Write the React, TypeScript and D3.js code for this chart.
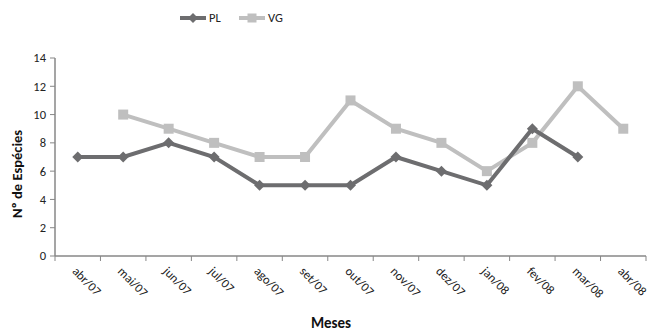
import React from "react";
import * as d3 from "d3";

const months = ["abr/07", "mai/07", "jun/07", "jul/07", "ago/07", "set/07", "out/07", "nov/07", "dez/07", "jan/08", "fev/08", "mar/08", "abr/08"];
const plValues: (number | null)[] = [7, 7, 8, 7, 5, 5, 5, 7, 6, 5, 9, 7, null];
const vgValues: (number | null)[] = [null, 10, 9, 8, 7, 7, 11, 9, 8, 6, 8, 12, 9];
const yTicks = [0, 2, 4, 6, 8, 10, 12, 14];

const W = 654;
const H = 331;
const left = 55;
const right = 646;
const top = 58;
const bottom = 256;
const font = "Carlito, Calibri, 'Liberation Sans', Arial, sans-serif";
const axisColor = "#878787";
const plColor = "#6d6d6f";
const vgColor = "#bfbfbf";

export default function App() {
  const x = d3.scaleBand<string>().domain(months).range([left, right]);
  const y = d3.scaleLinear().domain([0, 14]).range([bottom, top]);
  const cx = (m: string) => (x(m) ?? 0) + x.bandwidth() / 2;

  const line = d3
    .line<[string, number | null]>()
    .defined((d) => d[1] != null)
    .x((d) => cx(d[0]))
    .y((d) => y(d[1] as number));

  const plData = months.map((m, i) => [m, plValues[i]] as [string, number | null]);
  const vgData = months.map((m, i) => [m, vgValues[i]] as [string, number | null]);

  const diamond = (px: number, py: number, r: number) =>
    `M${px},${py - r}L${px + r},${py}L${px},${py + r}L${px - r},${py}Z`;

  return (
    <svg width={W} height={H} style={{ position: "absolute", left: 0, top: 0, background: "#fff" }} fontFamily={font}>
      {/* axes */}
      <line x1={left} x2={left} y1={top} y2={bottom} stroke={axisColor} strokeWidth={1.5} />
      <line x1={left} x2={right} y1={bottom} y2={bottom} stroke={axisColor} strokeWidth={1.5} />
      {yTicks.map((t) => (
        <g key={t}>
          <line x1={left - 5} x2={left} y1={y(t)} y2={y(t)} stroke={axisColor} strokeWidth={1} />
          <text x={left - 9} y={y(t)} dy="0.35em" textAnchor="end" fontSize={12.5} fill="#222">
            {t}
          </text>
        </g>
      ))}
      {months.map((m, i) => (
        <line key={"t" + m} x1={left + i * x.bandwidth()} x2={left + i * x.bandwidth()} y1={bottom} y2={bottom + 5} stroke={axisColor} strokeWidth={1} />
      ))}
      <line x1={right} x2={right} y1={bottom} y2={bottom + 5} stroke={axisColor} strokeWidth={1} />
      {months.map((m) => (
        <text
          key={"l" + m}
          transform={`translate(${cx(m) - 3},${bottom + 13}) rotate(45)`}
          fontSize={12.5}
          fill="#222"
          dy="0.35em"
        >
          {m}
        </text>
      ))}
      <text x={331} y={H - 3} textAnchor="middle" fontSize={15} fontWeight="bold" fill="#111">
        Meses
      </text>
      <text transform={`translate(22,${(top + bottom) / 2 + 17}) rotate(-90)`} textAnchor="middle" fontSize={14.5} fontWeight="bold" fill="#111">
        Nº de Espécies
      </text>

      {/* VG series */}
      <path d={line(vgData) ?? ""} fill="none" stroke={vgColor} strokeWidth={4} />
      {vgData.filter((d) => d[1] != null).map((d) => (
        <rect key={"v" + d[0]} x={cx(d[0]) - 5} y={y(d[1] as number) - 5} width={10} height={10} fill={vgColor} />
      ))}

      {/* PL series */}
      <path d={line(plData) ?? ""} fill="none" stroke={plColor} strokeWidth={4} />
      {plData.filter((d) => d[1] != null).map((d) => (
        <path key={"p" + d[0]} d={diamond(cx(d[0]), y(d[1] as number), 5.5)} fill={plColor} />
      ))}

      {/* legend */}
      <line x1={180} x2={206} y1={18} y2={18} stroke={plColor} strokeWidth={4} />
      <path d={diamond(193, 18, 5)} fill={plColor} />
      <text x={209} y={18} dy="0.35em" fontSize={12.5} fill="#222">PL</text>
      <line x1={239} x2={265} y1={18} y2={18} stroke={vgColor} strokeWidth={4} />
      <rect x={247.5} y={13.5} width={9} height={9} fill={vgColor} />
      <text x={268} y={18} dy="0.35em" fontSize={12.5} fill="#222">VG</text>
    </svg>
  );
}
